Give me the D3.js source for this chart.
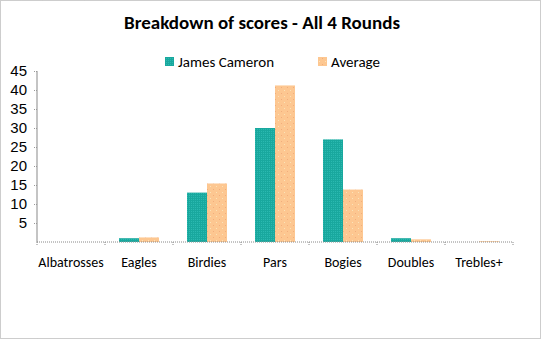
<!DOCTYPE html>
<html>
<head>
<meta charset="utf-8">
<script src="https://cdn.jsdelivr.net/npm/d3@7"></script>
<style>
  body { margin: 0; background: #fff; }
  svg { font-family: Carlito, Calibri, "Open Sans", sans-serif; }
</style>
</head>
<body>
<div id="chart"></div>
<script>
const categories = ["Albatrosses", "Eagles", "Birdies", "Pars", "Bogies", "Doubles", "Trebles+"];
const seriesNames = ["James Cameron", "Average"];
const jamesValues = [0, 1, 13, 30, 27, 1, 0];
const averageValues = [0, 1.2, 15.4, 41.2, 13.8, 0.7, 0.2];
const yTicks = [5, 10, 15, 20, 25, 30, 35, 40, 45];

const colors = ["#19a89e", "#fdc791"];

const W = 542, H = 340;
const margin = { top: 71, right: 29, bottom: 98, left: 37 };
const width = W - margin.left - margin.right,
  height = H - margin.top - margin.bottom;

const svg = d3.select("#chart").append("svg")
  .attr("width", W).attr("height", H);

// textured fills like the original
const defs = svg.append("defs");
const pt = defs.append("pattern").attr("id", "pat0")
  .attr("patternUnits", "userSpaceOnUse").attr("width", 2).attr("height", 2);
pt.append("rect").attr("width", 2).attr("height", 2).attr("fill", colors[0]);
pt.append("rect").attr("width", 1).attr("height", 1).attr("fill", "#2bb9b0");
const po = defs.append("pattern").attr("id", "pat1")
  .attr("patternUnits", "userSpaceOnUse").attr("width", 6).attr("height", 6);
po.append("rect").attr("width", 6).attr("height", 6).attr("fill", colors[1]);
po.append("rect").attr("x", 1).attr("y", 1).attr("width", 1).attr("height", 1).attr("fill", "#fbe3b8");
po.append("rect").attr("x", 4).attr("y", 4).attr("width", 1).attr("height", 1).attr("fill", "#f2ad7c");

svg.append("rect")
  .attr("x", 0.5).attr("y", 0.5).attr("width", W - 2).attr("height", H - 2)
  .attr("fill", "none").attr("stroke", "#9a9a9a").attr("stroke-dasharray", "1,1");

svg.append("text")
  .attr("x", 262).attr("y", 29)
  .attr("text-anchor", "middle")
  .style("font-size", "19px").style("font-weight", "bold")
  .text("Breakdown of scores - All 4 Rounds");

const g = svg.append("g")
  .attr("transform", "translate(" + margin.left + "," + margin.top + ")");

const x0 = d3.scaleBand().domain(categories).range([0, width]).paddingInner(0).paddingOuter(0);
const x1 = d3.scaleBand().domain(seriesNames).range([0, x0.bandwidth()]).paddingInner(0).paddingOuter(0.7);
const y = d3.scaleLinear().domain([0, 45]).range([height, 0]);

const data = categories.map((c, i) => ({ cat: c, vals: [jamesValues[i], averageValues[i]] }));

const groups = g.selectAll(".grp").data(data).enter().append("g")
  .attr("transform", (d) => "translate(" + x0(d.cat) + ",0)");

groups.selectAll("rect")
  .data((d) => d.vals.map((v, k) => ({ key: seriesNames[k], v: v, k: k })))
  .enter().append("rect")
  .attr("x", (d) => x1(d.key))
  .attr("y", (d) => y(d.v))
  .attr("width", x1.bandwidth())
  .attr("height", (d) => height - y(d.v))
  .attr("fill", (d) => "url(#pat" + d.k + ")");

// y axis
const yAxis = d3.axisLeft(y).tickValues(yTicks).tickSize(4).tickPadding(6);
const yAxisG = g.append("g").call(yAxis);
yAxisG.select(".domain").attr("stroke", "#c4c4c4").attr("stroke-width", 2)
  .attr("d", "M0," + height + "V0");
yAxisG.selectAll(".tick line").attr("stroke", "#999").attr("stroke-dasharray", "1,1");
yAxisG.selectAll("text").style("font-size", "15px").attr("fill", "#000");

// x axis
const xAxisG = g.append("g").attr("transform", "translate(0," + height + ")");
xAxisG.append("line")
  .attr("x1", 0).attr("x2", width)
  .attr("stroke", "#888").attr("stroke-dasharray", "1,1");
xAxisG.selectAll(".sep").data(categories.concat(["end"]))
  .enter().append("line")
  .attr("x1", (d, i) => i * x0.bandwidth()).attr("x2", (d, i) => i * x0.bandwidth())
  .attr("y1", 0).attr("y2", 4)
  .attr("stroke", "#888").attr("stroke-dasharray", "1,1");
xAxisG.selectAll(".lbl").data(categories).enter().append("text")
  .attr("x", (d) => x0(d) + x0.bandwidth() / 2)
  .attr("y", 25)
  .attr("text-anchor", "middle")
  .style("font-size", "14px")
  .text((d) => d);

// legend
const legend = svg.append("g");
const legendX = [165, 318];
seriesNames.forEach((name, i) => {
  legend.append("rect")
    .attr("x", legendX[i]).attr("y", 57).attr("width", 9).attr("height", 9)
    .attr("fill", "url(#pat" + i + ")");
  legend.append("text")
    .attr("x", legendX[i] + 13).attr("y", 67)
    .style("font-size", "15px")
    .text(name);
});
</script>
</body>
</html>
